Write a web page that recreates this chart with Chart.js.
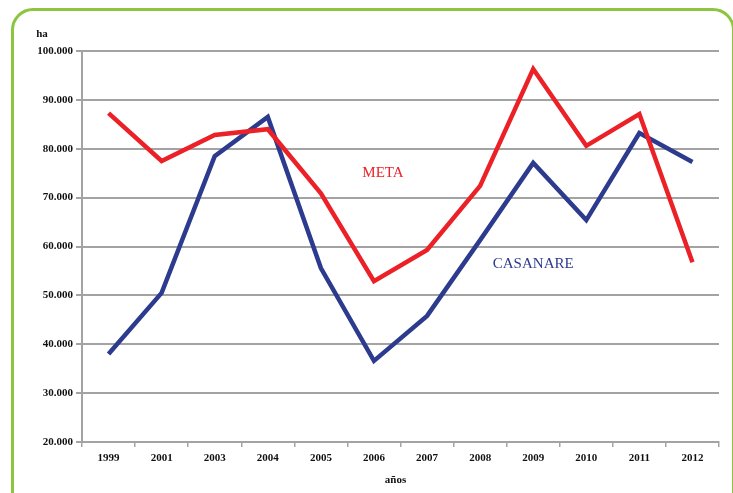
<!DOCTYPE html>
<html>
<head>
<meta charset="utf-8">
<script src="https://cdn.jsdelivr.net/npm/chart.js@4/dist/chart.umd.min.js"></script>
<style>
  html, body { margin: 0; padding: 0; background: #fff; overflow: hidden; }
  #wrap { position: relative; width: 733px; height: 493px; overflow: hidden; }
  #frame { position: absolute; left: 11px; top: 8px; width: 724px; height: 520px;
           border: 3px solid #8cc63f; border-radius: 22px; box-sizing: border-box; }
  canvas { position: absolute; left: 0; top: 0; }
</style>
</head>
<body>
<div id="wrap">
  <div id="frame"></div>
  <canvas id="c" width="733" height="493"></canvas>
</div>
<script>
const years = ['1999','2001','2003','2004','2005','2006','2007','2008','2009','2010','2011','2012'];
const meta = [87300, 77500, 82800, 84000, 70900, 52900, 59300, 72400, 96300, 80600, 87100, 56800];
const casanare = [38000, 50500, 78500, 86500, 55600, 36600, 45800, 61300, 77100, 65400, 83200, 77300];
const yTicks = [20000, 30000, 40000, 50000, 60000, 70000, 80000, 90000, 100000];
const seriesNames = ['META', 'CASANARE'];
const yUnit = 'ha';
const xTitle = 'años';

const RED = '#ec2127';
const BLUE = '#2c3b8e';
const GRID = '#a3a3a3';
const TICKFONT = { family: 'Liberation Serif', size: 11, weight: 'bold' };

function fmt(v) { return v.toLocaleString('de-DE'); }

const textPlugin = {
  id: 'texts',
  afterDatasetsDraw(chart) {
    const ctx = chart.ctx;
    const xs = chart.scales.x, ys = chart.scales.y;
    const ca = chart.chartArea;
    ctx.save();
    ctx.font = '15px "Liberation Serif"';
    ctx.textAlign = 'center';
    ctx.textBaseline = 'middle';
    ctx.fillStyle = RED;
    ctx.fillText(seriesNames[0], xs.getPixelForValue(5.17), ys.getPixelForValue(75000));
    ctx.fillStyle = BLUE;
    ctx.fillText(seriesNames[1], xs.getPixelForValue(8.0), ys.getPixelForValue(56400));
    ctx.fillStyle = '#111';
    ctx.font = 'bold 11px "Liberation Serif"';
    ctx.fillText(yUnit, ca.left - 40, ca.top - 17);
    ctx.fillText(xTitle, (ca.left + ca.right) / 2 - 5, ca.bottom + 38);
    ctx.restore();
  }
};

new Chart(document.getElementById('c'), {
  type: 'line',
  data: {
    labels: years,
    datasets: [
      { label: seriesNames[0], data: meta, borderColor: RED, borderWidth: 4.5, pointRadius: 0, tension: 0, borderJoinStyle: 'miter' },
      { label: seriesNames[1], data: casanare, borderColor: BLUE, borderWidth: 4.5, pointRadius: 0, tension: 0, borderJoinStyle: 'miter' }
    ]
  },
  options: {
    responsive: false,
    animation: false,
    events: [],
    layout: { padding: { left: 0, right: 14, top: 51, bottom: 0 } },
    plugins: { legend: { display: false }, tooltip: { enabled: false } },
    scales: {
      x: {
        offset: true,
        grid: { offset: true, drawOnChartArea: false, drawTicks: true, tickLength: 5, color: GRID, lineWidth: 1.5 },
        border: { display: true, color: GRID, width: 2 },
        ticks: { color: '#111', font: TICKFONT, padding: 5, maxRotation: 0, autoSkip: false },
        afterFit(s) { s.height = 51; }
      },
      y: {
        min: 20000, max: 100000,
        afterBuildTicks(s) { s.ticks = yTicks.map(v => ({ value: v })); },
        grid: { color: GRID, lineWidth: 2, drawTicks: true, tickLength: 6 },
        border: { display: true, color: GRID, width: 2 },
        ticks: { color: '#111', font: TICKFONT, padding: 3, callback: v => fmt(v) },
        afterFit(s) { s.width = 82; }
      }
    }
  },
  plugins: [textPlugin]
});
</script>
</body>
</html>
